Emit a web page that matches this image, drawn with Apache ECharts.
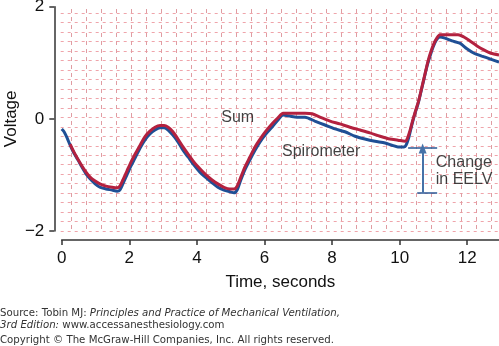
<!DOCTYPE html>
<html><head><meta charset="utf-8">
<script src="https://cdn.jsdelivr.net/npm/echarts@6/dist/echarts.min.js"></script>
<style>html,body{margin:0;padding:0;background:#fff}#c{width:499px;height:346px}</style>
</head><body><div id="c"></div>
<script>
// Tick labels
const xTicks = [0, 2, 4, 6, 8, 10, 12];
const yTicks = [-2, 0, 2];

// Spirometer (blue) trace: time (s) and voltage
const spiroTime = [0, 0.07, 0.16, 0.25, 0.36, 0.48, 0.60, 0.72, 0.84, 0.99, 1.13, 1.31, 1.49, 1.64, 1.72, 1.81, 1.93, 2.05, 2.17, 2.32, 2.46, 2.61, 2.76, 2.91, 3.03, 3.15, 3.29, 3.44, 3.59, 3.74, 3.91, 4.09, 4.27, 4.45, 4.62, 4.80, 4.98, 5.10, 5.19, 5.30, 5.42, 5.57, 5.72, 5.87, 6.04, 6.22, 6.40, 6.55, 6.75, 6.96, 7.20, 7.49, 7.79, 8.09, 8.38, 8.68, 8.97, 9.27, 9.57, 9.77, 9.95, 10.13, 10.19, 10.28, 10.36, 10.45, 10.54, 10.63, 10.72, 10.81, 10.90, 10.99, 11.07, 11.19, 11.34, 11.55, 11.78, 11.99, 12.20, 12.43, 12.67, 12.94];
const spiroVolt = [-0.18, -0.23, -0.34, -0.47, -0.61, -0.73, -0.86, -0.98, -1.07, -1.16, -1.22, -1.25, -1.27, -1.29, -1.27, -1.16, -1.00, -0.84, -0.70, -0.52, -0.38, -0.27, -0.20, -0.16, -0.16, -0.20, -0.29, -0.41, -0.56, -0.68, -0.82, -0.95, -1.05, -1.14, -1.22, -1.27, -1.30, -1.32, -1.27, -1.09, -0.91, -0.73, -0.56, -0.41, -0.27, -0.15, -0.02, 0.07, 0.05, 0.03, 0.03, -0.04, -0.11, -0.18, -0.23, -0.31, -0.36, -0.40, -0.43, -0.47, -0.50, -0.50, -0.47, -0.31, -0.11, 0.09, 0.26, 0.48, 0.71, 0.94, 1.12, 1.28, 1.39, 1.46, 1.44, 1.39, 1.35, 1.25, 1.17, 1.12, 1.07, 1.01];

// Sum (red) trace: time (s) and voltage
const sumTime = [0.25, 0.36, 0.48, 0.60, 0.72, 0.84, 0.99, 1.13, 1.31, 1.49, 1.64, 1.72, 1.81, 1.93, 2.05, 2.17, 2.32, 2.46, 2.61, 2.76, 2.91, 3.03, 3.15, 3.29, 3.44, 3.59, 3.74, 3.91, 4.09, 4.27, 4.45, 4.62, 4.80, 4.98, 5.10, 5.19, 5.30, 5.42, 5.57, 5.72, 5.87, 6.04, 6.22, 6.40, 6.55, 6.75, 6.96, 7.20, 7.41, 7.64, 7.94, 8.23, 8.53, 8.83, 9.12, 9.42, 9.71, 9.95, 10.16, 10.22, 10.31, 10.39, 10.48, 10.57, 10.66, 10.75, 10.84, 10.93, 11.02, 11.10, 11.19, 11.37, 11.55, 11.73, 11.90, 12.08, 12.29, 12.49, 12.70, 12.94];
const sumVolt = [-0.45, -0.59, -0.72, -0.84, -0.95, -1.04, -1.11, -1.16, -1.20, -1.22, -1.23, -1.20, -1.09, -0.93, -0.77, -0.63, -0.47, -0.32, -0.22, -0.15, -0.12, -0.12, -0.15, -0.23, -0.36, -0.50, -0.63, -0.77, -0.89, -1.00, -1.09, -1.16, -1.22, -1.25, -1.25, -1.20, -1.04, -0.86, -0.68, -0.50, -0.36, -0.22, -0.09, 0.02, 0.10, 0.10, 0.10, 0.10, 0.09, 0.03, -0.04, -0.09, -0.15, -0.20, -0.25, -0.31, -0.36, -0.38, -0.40, -0.36, -0.20, -0.02, 0.16, 0.34, 0.57, 0.80, 1.03, 1.21, 1.35, 1.44, 1.50, 1.50, 1.50, 1.50, 1.46, 1.39, 1.30, 1.23, 1.17, 1.14];

// Change in EELV annotation (time s, voltage)
const eelvTopLevel = -0.51, eelvBottomLevel = -1.32;
const eelvTopStart = 10.25, eelvBottomStart = 10.52, eelvEnd = 11.11, eelvArrowTime = 10.68;

// Text annotations
const noteTexts = ['Sum', 'Spirometer', 'Change\nin EELV'];
const noteTime = [4.72, 6.52, 11.07];
const noteVolt = [0.03, -0.59, -0.94];

const FONT = '"Liberation Sans", Arial, Helvetica, sans-serif';
const SRC_FONT = '"DejaVu Sans", Verdana, sans-serif';
const AX = '#333333';
const zip = (a, b) => a.map((v, i) => [v, b[i]]);
const minus = v => v < 0 ? '\u2212' + Math.abs(v) : String(v);

const chart = echarts.init(document.getElementById('c'), null, {renderer: 'canvas'});
chart.setOption({
  animation: false,
  backgroundColor: '#ffffff',
  grid: [
    {left: 61.7, right: 0, top: 6.7, bottom: 115, outerBoundsMode: 'none', containLabel: false},
    {left: 60.7, right: 0, top: 6.7, bottom: 115, outerBoundsMode: 'none', containLabel: false},
    {left: 56.7, right: 0, top: 9, bottom: 113, outerBoundsMode: 'none', containLabel: false}
  ],
  xAxis: [
    {
      type: 'value', gridIndex: 0, min: 0, max: 12.94, interval: 2, offset: 9,
      name: 'Time, seconds', nameLocation: 'middle', nameGap: 34, nameMoveOverlap: false,
      nameTextStyle: {fontFamily: FONT, fontSize: 17, color: '#111'},
      axisLine: {show: true, onZero: false, lineStyle: {color: AX, width: 1.5}},
      axisTick: {show: true, length: 5, lineStyle: {color: AX, width: 1.5}, customValues: xTicks},
      axisLabel: {fontFamily: FONT, fontSize: 17, color: '#111', margin: 10, customValues: xTicks},
      splitLine: {show: false}
    },
    {
      type: 'value', gridIndex: 1, min: 0, max: 1, show: false
    },
    {
      type: 'value', gridIndex: 2, min: 0, max: 29.49, interval: 1,
      axisLine: {show: false, onZero: false}, axisTick: {show: false}, axisLabel: {show: false},
      splitLine: {show: true, showMinLine: false, showMaxLine: false,
        lineStyle: {color: '#e09ca2', width: 1, type: [4, 4]}}
    }
  ],
  yAxis: [
    {
      type: 'value', gridIndex: 0, min: -2, max: 2, interval: 2, offset: 7.4,
      name: 'Voltage', nameLocation: 'middle', nameGap: 34, nameMoveOverlap: false,
      nameTextStyle: {fontFamily: FONT, fontSize: 17, color: '#111'},
      axisLine: {show: true, onZero: false, lineStyle: {color: AX, width: 1.5}},
      axisTick: {show: true, length: 5, lineStyle: {color: AX, width: 1.5}, customValues: yTicks},
      axisLabel: {fontFamily: FONT, fontSize: 17, color: '#111', margin: 10, customValues: yTicks, formatter: minus},
      splitLine: {show: false}
    },
    {
      type: 'value', gridIndex: 1, min: 0, max: 23.69, interval: 1,
      axisLine: {show: false, onZero: false}, axisTick: {show: false}, axisLabel: {show: false},
      splitLine: {show: true, showMinLine: true, showMaxLine: false,
        lineStyle: {color: '#efa4aa', width: 1, type: [3, 4]}}
    },
    {
      type: 'value', gridIndex: 2, min: 0, max: 1, show: false
    }
  ],
  series: [
    {
      name: 'Spirometer', type: 'line', xAxisIndex: 0, yAxisIndex: 0,
      data: zip(spiroTime, spiroVolt), showSymbol: false, smooth: 0.25,
      lineStyle: {color: '#1f4f95', width: 3}, z: 3
    },
    {
      name: 'Sum', type: 'line', xAxisIndex: 0, yAxisIndex: 0,
      data: zip(sumTime, sumVolt), showSymbol: false, smooth: 0.25,
      lineStyle: {color: '#b3213f', width: 3}, z: 4
    },
    {
      type: 'line', xAxisIndex: 0, yAxisIndex: 0, data: [], z: 5,
      markLine: {
        silent: true, symbol: 'none', animation: false,
        label: {show: false},
        lineStyle: {color: '#2a5794', width: 1.5, type: 'solid'},
        data: [
          [{coord: [eelvTopStart, eelvTopLevel]}, {coord: [eelvEnd, eelvTopLevel]}],
          [{coord: [eelvBottomStart, eelvBottomLevel]}, {coord: [eelvEnd, eelvBottomLevel]}],
          [{coord: [eelvArrowTime, eelvBottomLevel], symbol: 'none'},
           {coord: [eelvArrowTime, eelvTopLevel - 0.02], symbol: 'triangle', symbolSize: [8, 10],
            lineStyle: {color: '#4672a8', width: 2}}]
        ]
      }
    },
    {
      type: 'scatter', xAxisIndex: 0, yAxisIndex: 0, symbolSize: 0, z: 6,
      data: noteTexts.map((t, i) => ({value: [noteTime[i], noteVolt[i]], name: t})),
      label: {
        show: true, position: [0, 0], align: 'left', verticalAlign: 'middle',
        formatter: p => p.name, fontFamily: FONT, fontSize: 16, lineHeight: 17, color: '#111'
      }
    }
  ],
  graphic: [
    {
      type: 'text', x: 0, y: 313,
      style: {
        text: '{n|Source: Tobin MJ: }{i|Principles and Practice of Mechanical Ventilation,}',
        verticalAlign: 'middle',
        rich: {
          n: {fontFamily: SRC_FONT, fontSize: 10.2, fill: '#333'},
          i: {fontFamily: SRC_FONT, fontSize: 10.2, fontStyle: 'italic', fill: '#333'}
        }
      }
    },
    {
      type: 'text', x: 0, y: 325,
      style: {
        text: '{i|3rd Edition:}{n| www.accessanesthesiology.com}',
        verticalAlign: 'middle',
        rich: {
          n: {fontFamily: SRC_FONT, fontSize: 10.2, fill: '#333'},
          i: {fontFamily: SRC_FONT, fontSize: 10.2, fontStyle: 'italic', fill: '#333'}
        }
      }
    },
    {
      type: 'text', x: 0, y: 340.5,
      style: {
        text: 'Copyright \u00a9 The McGraw-Hill Companies, Inc. All rights reserved.',
        verticalAlign: 'middle',
        fontFamily: SRC_FONT, fontSize: 10.2, fill: '#333'
      }
    }
  ]
});
</script>
</body></html>
